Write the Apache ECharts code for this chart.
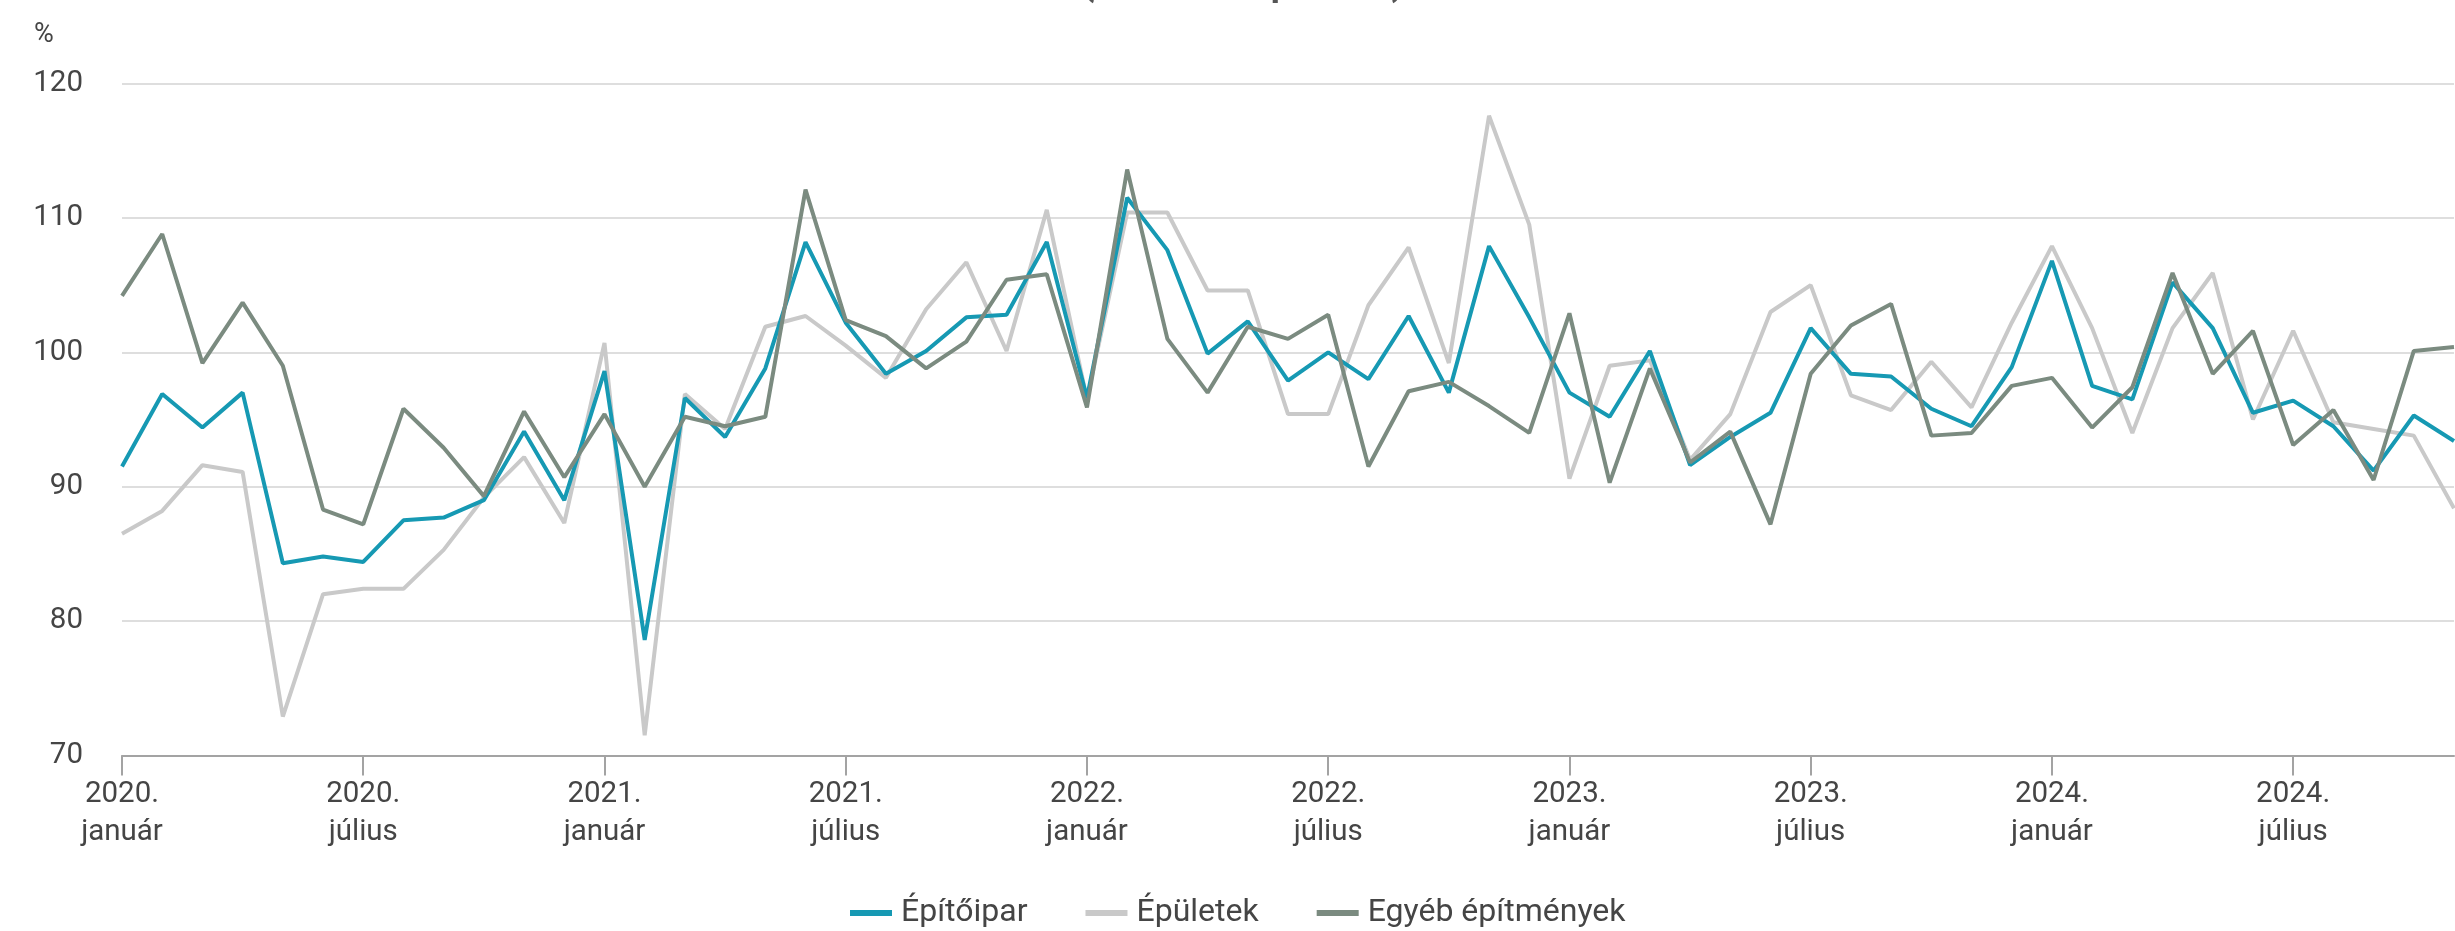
<!DOCTYPE html>
<html lang="hu">
<head>
<meta charset="utf-8">
<title>Építőipari termelés volumenindexe</title>
<script src="https://cdn.jsdelivr.net/npm/echarts@6/dist/echarts.min.js"></script>
<style>
  html, body { margin: 0; padding: 0; background: #fff; }
  #chart { width: 2455px; height: 931px; }
</style>
</head>
<body>
<div id="chart"></div>
<script>
// Monthly volume indices, 2020. január – 2024. november (previous month = 100)
const years = [2020, 2021, 2022, 2023, 2024];
const monthNames = ['január', 'február', 'március', 'április', 'május', 'június',
  'július', 'augusztus', 'szeptember', 'október', 'november', 'december'];
const lastYearMonths = 11;

const epitoipar = [
  91.5, 96.9, 94.4, 97.0, 84.3, 84.8, 84.4, 87.5, 87.7, 89.0, 94.1, 89.0,
  98.6, 78.6, 96.6, 93.7, 98.8, 108.2, 102.2, 98.4, 100.1, 102.6, 102.8, 108.2,
  96.6, 111.5, 107.6, 99.9, 102.3, 97.9, 100.0, 98.0, 102.7, 97.0, 107.9, 102.6,
  97.0, 95.2, 100.1, 91.6, 93.7, 95.5, 101.8, 98.4, 98.2, 95.8, 94.5, 98.9,
  106.8, 97.5, 96.5, 105.2, 101.8, 95.5, 96.4, 94.5, 91.2, 95.3, 93.4
];
const epuletek = [
  86.5, 88.2, 91.6, 91.1, 72.9, 82.0, 82.4, 82.4, 85.3, 89.2, 92.2, 87.3,
  100.7, 71.5, 96.9, 94.3, 101.9, 102.7, 100.5, 98.1, 103.2, 106.7, 100.1, 110.6,
  96.5, 110.4, 110.4, 104.6, 104.6, 95.4, 95.4, 103.5, 107.8, 99.2, 117.6, 109.5,
  90.6, 99.0, 99.4, 92.0, 95.4, 103.0, 105.0, 96.8, 95.7, 99.3, 95.9, 102.2,
  107.9, 101.8, 94.0, 101.8, 105.9, 95.0, 101.6, 94.8, 94.3, 93.8, 88.4
];
const egyebEpitmenyek = [
  104.2, 108.8, 99.2, 103.7, 99.0, 88.3, 87.2, 95.8, 92.9, 89.3, 95.6, 90.7,
  95.4, 90.0, 95.2, 94.5, 95.2, 112.1, 102.4, 101.2, 98.8, 100.8, 105.4, 105.8,
  95.9, 113.6, 101.0, 97.0, 101.9, 101.0, 102.8, 91.5, 97.1, 97.8, 96.0, 94.0,
  102.9, 90.3, 98.8, 91.8, 94.1, 87.2, 98.4, 102.0, 103.6, 93.8, 94.0, 97.5,
  98.1, 94.4, 97.4, 105.9, 98.4, 101.6, 93.1, 95.7, 90.5, 100.1, 100.4
];

const yTicks = { min: 70, max: 120, step: 10 };

// Category labels "YYYY.\nhónap"
const categories = [];
years.forEach((y, yi) => {
  const count = yi === years.length - 1 ? lastYearMonths : 12;
  for (let m = 0; m < count; m++) categories.push(y + '.\n' + monthNames[m]);
});

const FONT = 'Roboto, "Noto Sans", sans-serif';
const TEXT = '#454545';
const COLORS = { epitoipar: '#1699b3', epuletek: '#c9c9c9', egyeb: '#7b8b80' };

const chart = echarts.init(document.getElementById('chart'), null, { renderer: 'canvas' });

chart.setOption({
  animation: false,
  backgroundColor: '#ffffff',
  textStyle: { fontFamily: FONT },
  graphic: [
    {
      type: 'text', left: 34, top: 22,
      style: { text: '%', font: '27px ' + FONT, fill: TEXT }
    },
    {
      type: 'text', x: 1243, y: 4,
      style: {
        text: '(előző hónap = 100)', font: 'bold 36px ' + FONT, fill: '#555',
        textAlign: 'center', textVerticalAlign: 'bottom'
      }
    }
  ],
  grid: { left: 122, right: 1, top: 83.5, bottom: 175.5, containLabel: false },
  legend: {
    data: ['Építőipar', 'Épületek', 'Egyéb építmények'],
    left: 850, top: 895, padding: 0,
    icon: 'rect', itemWidth: 42, itemHeight: 6, itemGap: 58,
    textStyle: { fontFamily: FONT, fontSize: 32, color: TEXT, lineHeight: 36, padding: [0, 0, 0, 4] }
  },
  xAxis: {
    type: 'category',
    data: categories,
    boundaryGap: false,
    axisLine: { lineStyle: { color: '#a3a3a3', width: 2 } },
    axisTick: { interval: 5, length: 20, lineStyle: { color: '#a3a3a3', width: 2 } },
    axisLabel: {
      interval: 5, margin: 20, fontFamily: FONT, fontSize: 29.5, color: TEXT, lineHeight: 38
    },
    splitLine: { show: false }
  },
  yAxis: {
    type: 'value',
    min: yTicks.min, max: yTicks.max, interval: yTicks.step,
    axisLine: { show: false },
    axisTick: { show: false },
    axisLabel: { margin: 39, fontFamily: FONT, fontSize: 29.5, color: TEXT },
    splitLine: { lineStyle: { color: '#dedede', width: 2 } }
  },
  series: [
    {
      name: 'Épületek', type: 'line', data: epuletek, symbol: 'none', z: 2,
      lineStyle: { color: COLORS.epuletek, width: 4 }, itemStyle: { color: COLORS.epuletek }
    },
    {
      name: 'Építőipar', type: 'line', data: epitoipar, symbol: 'none', z: 3,
      lineStyle: { color: COLORS.epitoipar, width: 4 }, itemStyle: { color: COLORS.epitoipar }
    },
    {
      name: 'Egyéb építmények', type: 'line', data: egyebEpitmenyek, symbol: 'none', z: 4,
      lineStyle: { color: COLORS.egyeb, width: 4 }, itemStyle: { color: COLORS.egyeb }
    }
  ]
});
</script>
</body>
</html>
